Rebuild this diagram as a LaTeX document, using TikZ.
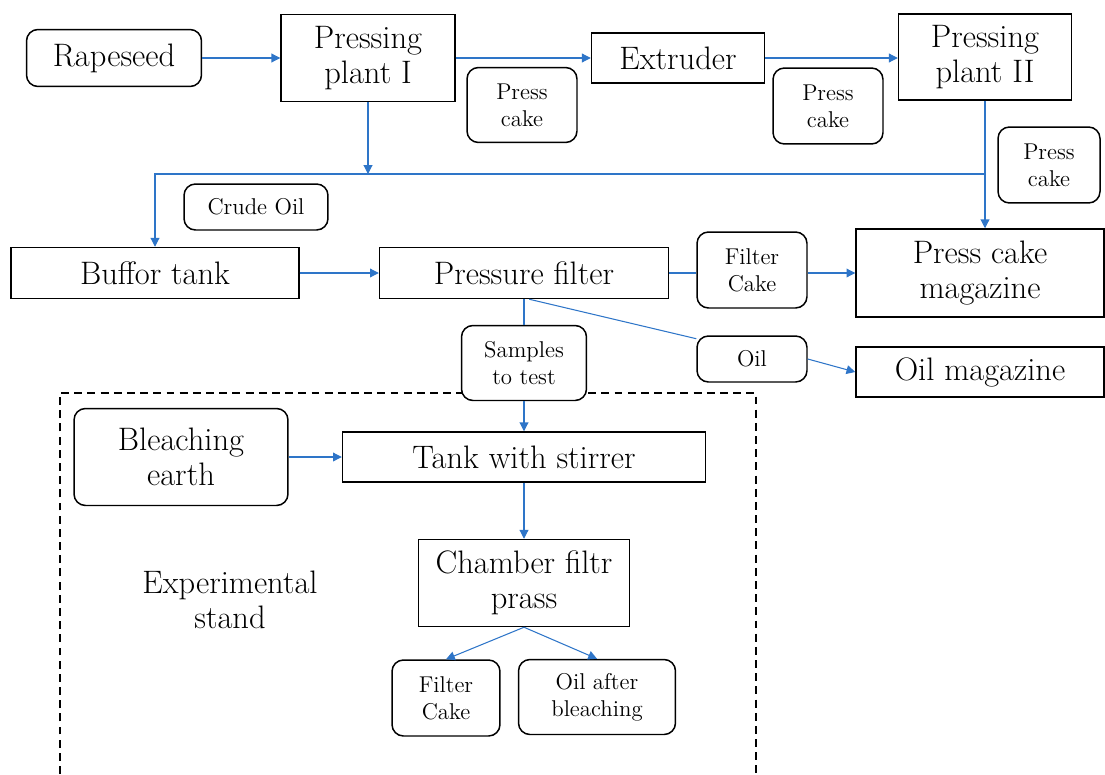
\documentclass[tikz,border=0pt]{standalone}
\usetikzlibrary{arrows.meta}
\definecolor{flowblue}{RGB}{46,117,200}
\begin{document}
\begin{tikzpicture}[
        x=0.02cm, y=-0.02cm,
        unit/.style={draw=black, line width=0.85pt, fill=white, inner sep=0pt, align=center},
        stream/.style={unit, rounded corners=6.5pt},
        big/.style={font=\fontsize{18.5}{20}\selectfont},
        small/.style={font=\fontsize{13}{15.5}\selectfont},
        pipe/.style={draw=flowblue, line width=0.6pt},
        flow/.style={pipe, -{Triangle[length=5pt,width=5pt]}}
    ]
        \useasboundingbox (0,0) rectangle (1105,774);

        % experimental stand frame
        \draw[line width=0.7pt, dash pattern=on 4.5pt off 3pt] (60,774) |- (756,393) -- (756,774);

        % pressing line
        \node[stream, big, minimum width=3.5cm, minimum height=1.14cm] (rapeseed) at (114,58) {Rapeseed};
        \node[unit, big, minimum width=3.48cm, minimum height=1.74cm] (press1) at (368,58) {Pressing\\plant I};
        \node[unit, big, minimum width=3.46cm, minimum height=1.0cm] (extruder) at (678,58) {Extruder};
        \node[unit, big, minimum width=3.46cm, minimum height=1.72cm] (press2) at (985,57) {Pressing\\plant II};

        \node[stream, small, minimum width=2.2cm, minimum height=1.5cm] (cake1) at (522,105) {Press\\cake};
        \node[stream, small, minimum width=2.2cm, minimum height=1.52cm] (cake2) at (828,106) {Press\\cake};
        \node[stream, small, minimum width=2.04cm, minimum height=1.52cm] (cake3) at (1049,165) {Press\\cake};
        \node[stream, small, minimum width=2.88cm, minimum height=0.92cm] (crude) at (256,207) {Crude Oil};

        % filtration
        \node[unit, big, minimum width=5.76cm, minimum height=1.02cm] (buffor) at (155,273) {Buffor tank};
        \node[unit, big, minimum width=5.78cm, minimum height=1.02cm] (pfilter) at (524,273) {Pressure filter};
        \node[stream, small, minimum width=2.2cm, minimum height=1.52cm] (fcake) at (752,270) {Filter\\Cake};
        \node[unit, big, minimum width=4.96cm, minimum height=1.76cm] (pcm) at (980,273) {Press cake\\magazine};
        \node[stream, small, minimum width=2.2cm, minimum height=0.92cm] (oil) at (752,359) {Oil};
        \node[unit, big, minimum width=4.96cm, minimum height=1.0cm] (om) at (980,372) {Oil magazine};
        \node[stream, small, minimum width=2.5cm, minimum height=1.5cm] (samples) at (524,363) {Samples\\to test};

        % bleaching
        \node[stream, big, minimum width=4.28cm, minimum height=1.94cm] (bleach) at (181,457) {Bleaching\\earth};
        \node[unit, big, minimum width=7.26cm, minimum height=1.0cm] (tank) at (524,457) {Tank with stirrer};
        \node[unit, big, minimum width=4.22cm, minimum height=1.74cm] (chamber) at (524,583) {Chamber filtr\\prass};
        \node[big, align=center] (stand) at (230,600) {Experimental\\stand};
        \node[stream, small, minimum width=2.16cm, minimum height=1.52cm] (fcake2) at (446,698) {Filter\\Cake};
        \node[stream, small, minimum width=3.14cm, minimum height=1.5cm] (oab) at (597,697) {Oil after\\bleaching};

        \coordinate (bus_w) at (155,174);
        \coordinate (bus_e) at (986,174);

        \draw[flow] (rapeseed) -- (press1);
        \draw[flow] (press1.east) -- (extruder.west);
        \draw[flow] (extruder.east) -- (press2.west |- extruder.east);
        \draw[flow] (press1.south) -- (press1.south |- bus_w);
        \draw[flow] (press2.south) -- (press2.south |- pcm.north);
        \draw[flow] (bus_e) -- (bus_w) -- (buffor.north);

        \draw[flow] (buffor) -- (pfilter);
        \draw[pipe] (pfilter.east) -- (fcake.west |- pfilter.east);
        \draw[flow] (fcake.east |- pfilter.east) -- (pcm.west |- pfilter.east);
        \draw[pipe] ([xshift=3pt]pfilter.south) -- (oil.160);
        \draw[flow] (oil.east) -- (om.west);
        \draw[pipe] (pfilter.south) -- (samples.north);
        \draw[flow] (samples.south) -- (tank.north);

        \draw[flow] (bleach) -- (tank);
        \draw[flow] (tank) -- (chamber);
        \draw[flow] (chamber.south) -- (fcake2.north);
        \draw[flow] (chamber.south) -- (oab.north);
    \end{tikzpicture}
\end{document}
